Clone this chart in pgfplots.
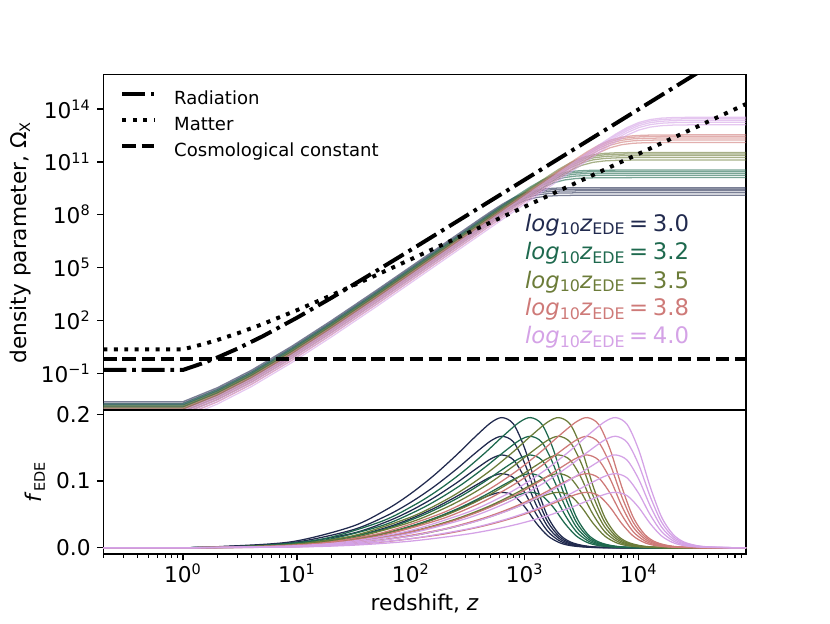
\documentclass[border=0pt]{standalone}
\usepackage{fontspec}
\setmainfont{DejaVu Sans}
\usepackage{pgfplots}
\usepackage{pgfplotstable}
\pgfplotsset{compat=1.18}
\definecolor{c1}{RGB}{33,42,78}
\definecolor{c2}{RGB}{30,105,78}
\definecolor{c3}{RGB}{108,124,57}
\definecolor{c4}{RGB}{206,122,120}
\definecolor{c5}{RGB}{212,162,230}

% top panel: log10 of density parameter of EDE, one table per z_EDE, columns = 5 amplitudes
\pgfplotstableread{
z a b c d e
0.2 -3.040 -2.900 -2.789 -2.694 -2.612
1 -3.040 -2.900 -2.789 -2.694 -2.612
2 -2.248 -2.108 -1.997 -1.902 -1.820
4 -1.250 -1.110 -0.999 -0.904 -0.822
9 0.105 0.245 0.356 0.451 0.533
20 1.555 1.695 1.806 1.901 1.983
50 3.289 3.429 3.540 3.635 3.717
250.4 6.406 6.546 6.657 6.752 6.834
397.6 7.300 7.440 7.551 7.646 7.728
500.7 7.738 7.878 7.989 8.084 8.166
630.5 8.156 8.296 8.407 8.502 8.584
794 8.525 8.665 8.776 8.871 8.953
1000 8.806 8.946 9.057 9.152 9.234
1259 8.975 9.115 9.226 9.321 9.403
1585 9.056 9.196 9.307 9.402 9.484
1996 9.088 9.228 9.339 9.434 9.516
2819 9.103 9.243 9.354 9.449 9.531
5012 9.107 9.247 9.358 9.453 9.535
87500 9.107 9.247 9.358 9.453 9.535
}\TA
\pgfplotstableread{
z a b c d e
0.2 -3.165 -3.025 -2.914 -2.819 -2.737
1 -3.165 -3.025 -2.914 -2.819 -2.737
2 -2.373 -2.233 -2.122 -2.027 -1.945
4 -1.375 -1.235 -1.124 -1.029 -0.947
9 -0.020 0.120 0.231 0.326 0.408
20 1.430 1.570 1.681 1.776 1.858
50 3.164 3.304 3.415 3.510 3.592
447 7.405 7.545 7.656 7.751 7.833
707.3 8.299 8.439 8.550 8.645 8.727
890.8 8.737 8.877 8.988 9.083 9.165
1122 9.155 9.295 9.406 9.501 9.583
1412 9.524 9.664 9.775 9.870 9.952
1778 9.805 9.945 10.056 10.151 10.233
2239 9.974 10.114 10.225 10.320 10.402
2819 10.055 10.195 10.306 10.401 10.483
3549 10.087 10.227 10.338 10.433 10.515
5013 10.102 10.242 10.353 10.448 10.530
8914 10.106 10.246 10.357 10.452 10.534
87500 10.106 10.246 10.357 10.452 10.534
}\TB
\pgfplotstableread{
z a b c d e
0.2 -3.290 -3.150 -3.039 -2.944 -2.862
1 -3.290 -3.150 -3.039 -2.944 -2.862
2 -2.498 -2.358 -2.247 -2.152 -2.070
4 -1.500 -1.360 -1.249 -1.154 -1.072
9 -0.145 -0.005 0.106 0.201 0.283
20 1.305 1.445 1.556 1.651 1.733
50 3.039 3.179 3.290 3.385 3.467
793.6 8.404 8.544 8.655 8.750 8.832
1258 9.298 9.438 9.549 9.644 9.726
1584 9.736 9.876 9.987 10.082 10.164
1995 10.154 10.294 10.405 10.500 10.582
2512 10.523 10.663 10.774 10.869 10.951
3162 10.804 10.944 11.055 11.150 11.232
3981 10.973 11.113 11.224 11.319 11.401
5012 11.054 11.194 11.305 11.400 11.482
6310 11.086 11.226 11.337 11.432 11.514
8913 11.101 11.241 11.352 11.447 11.529
15850 11.105 11.245 11.356 11.451 11.533
87500 11.105 11.245 11.356 11.451 11.533
}\TC
\pgfplotstableread{
z a b c d e
0.2 -3.415 -3.275 -3.164 -3.069 -2.987
1 -3.415 -3.275 -3.164 -3.069 -2.987
2 -2.623 -2.483 -2.372 -2.277 -2.195
4 -1.625 -1.485 -1.374 -1.279 -1.197
9 -0.270 -0.130 -0.019 0.076 0.158
20 1.180 1.320 1.431 1.526 1.608
50 2.914 3.054 3.165 3.260 3.342
1411 9.404 9.544 9.655 9.750 9.832
2238 10.298 10.438 10.549 10.644 10.726
2818 10.736 10.876 10.987 11.082 11.164
3548 11.154 11.294 11.405 11.500 11.582
4467 11.523 11.663 11.774 11.869 11.951
5623 11.804 11.944 12.055 12.150 12.232
7079 11.973 12.113 12.224 12.319 12.401
8913 12.054 12.194 12.305 12.400 12.482
11220 12.086 12.226 12.337 12.432 12.514
15850 12.101 12.241 12.352 12.447 12.529
28190 12.105 12.245 12.356 12.451 12.533
87500 12.105 12.245 12.356 12.451 12.533
}\TD
\pgfplotstableread{
z a b c d e
0.2 -3.540 -3.400 -3.289 -3.194 -3.112
1 -3.540 -3.400 -3.289 -3.194 -3.112
2 -2.748 -2.608 -2.497 -2.402 -2.320
4 -1.750 -1.610 -1.499 -1.404 -1.322
9 -0.395 -0.255 -0.144 -0.049 0.033
20 1.055 1.195 1.306 1.401 1.483
50 2.789 2.929 3.040 3.135 3.217
2511 10.404 10.544 10.655 10.750 10.832
3980 11.298 11.438 11.549 11.644 11.726
5011 11.736 11.876 11.987 12.082 12.164
6309 12.154 12.294 12.405 12.500 12.582
7942 12.523 12.663 12.774 12.869 12.951
10000 12.804 12.944 13.055 13.150 13.232
12590 12.973 13.113 13.224 13.319 13.401
15850 13.054 13.194 13.305 13.400 13.482
19950 13.086 13.226 13.337 13.432 13.514
28180 13.101 13.241 13.352 13.447 13.529
50120 13.105 13.245 13.356 13.451 13.533
87500 13.105 13.245 13.356 13.451 13.533
}\TE
% radiation, matter, cosmological constant (log10)
\pgfplotstableread{
z r
0.2 -0.810
1 -0.810
1.5 -0.422
2 -0.106
3 0.394
5 1.099
10 2.151
20 3.275
50 4.816
100 6.003
1000 9.988
10000 13.986
100000 17.986
}\Trad
\pgfplotstableread{
z m
0.2 0.360
1 0.360
1.5 0.651
2 0.888
3 1.263
5 1.791
10 2.581
20 3.424
50 4.580
100 5.470
1000 8.458
10000 11.457
87500 14.283
}\Tmat
\pgfplotstableread{
z l
0.2 -0.200
87500 -0.200
}\Tlam

% bottom panel: f_EDE
\pgfplotstableread{
z a b c d e
0.2 0 0 0 0 0
1 0 0 0 0 0
2.165 0.00069 0.00094 0.00122 0.00152 0.00183
9.01 0.00339 0.00467 0.00603 0.00747 0.00901
30.65 0.01221 0.01676 0.02156 0.02664 0.03202
62.15 0.02248 0.03074 0.03939 0.04846 0.05797
99.1 0.03175 0.04326 0.05525 0.0677 0.08068
157.6 0.04312 0.05851 0.07439 0.09075 0.10763
250.4 0.05673 0.07659 0.09686 0.11752 0.13863
354.2 0.06818 0.09166 0.11544 0.13945 0.16375
500.7 0.07914 0.10596 0.1329 0.1599 0.187
630.5 0.08301 0.11098 0.13899 0.16699 0.19501
794 0.07851 0.10513 0.1319 0.15872 0.18566
1000 0.06123 0.08252 0.1042 0.12621 0.14861
1259 0.03714 0.0505 0.06435 0.07869 0.09356
1585 0.01823 0.02496 0.03204 0.03948 0.04733
1996 0.00792 0.01091 0.01406 0.01739 0.02096
2513 0.00327 0.00451 0.00581 0.0072 0.00869
3550 0.00084 0.00116 0.00149 0.00185 0.00224
6313 0.00008 0.00011 0.00015 0.00019 0.00023
87500 0 0 0 0 0
}\FA
\pgfplotstableread{
z a b c d e
0.2 0 0 0 0 0
1 0 0 0 0 0
4.63 0.00117 0.00162 0.00209 0.00259 0.00313
16.8 0.00493 0.00678 0.00875 0.01085 0.01308
55.3 0.01513 0.02074 0.02666 0.0329 0.03948
111.3 0.02553 0.03487 0.04462 0.05482 0.06551
176.9 0.03449 0.04694 0.05987 0.07329 0.08725
281 0.04531 0.06142 0.078 0.09508 0.11267
446 0.0582 0.07853 0.09924 0.12036 0.14189
630.3 0.06912 0.09287 0.1169 0.14118 0.16574
890.8 0.07951 0.10643 0.13345 0.16055 0.18774
1121.7 0.08301 0.11098 0.13897 0.16698 0.19501
1412 0.07824 0.10476 0.13142 0.15819 0.18507
1778 0.06083 0.082 0.10353 0.12543 0.14772
2240 0.0368 0.05004 0.06377 0.07799 0.09274
2820 0.01802 0.02468 0.03168 0.03905 0.04681
3550 0.00782 0.01076 0.01386 0.01716 0.02065
4469 0.00323 0.00445 0.00573 0.00711 0.00858
6313 0.00083 0.00114 0.00148 0.00183 0.00222
11225 0.00008 0.00011 0.00015 0.00018 0.00022
87500 0 0 0 0 0
}\FB
\pgfplotstableread{
z a b c d e
0.2 0 0 0 0 0
1 0 0 0 0 0
2.163 0.00037 0.00051 0.00067 0.00083 0.001
9.0 0.00185 0.00255 0.0033 0.00409 0.00494
30.63 0.00669 0.00921 0.01187 0.0147 0.01771
99.0 0.01756 0.02406 0.0309 0.03809 0.04566
198.6 0.02771 0.03782 0.04836 0.05937 0.07085
315.3 0.03629 0.04938 0.06293 0.07699 0.09154
500.3 0.04665 0.06324 0.08027 0.09779 0.11579
793.6 0.05909 0.07972 0.10072 0.12211 0.14386
1121.4 0.06965 0.0936 0.11778 0.14223 0.16689
1584.4 0.07971 0.10673 0.1338 0.16097 0.18816
1994.9 0.08301 0.111 0.13899 0.16702 0.19499
2511.7 0.07806 0.10458 0.13119 0.15793 0.18471
3162.3 0.06059 0.0817 0.10316 0.12501 0.14719
3981 0.0366 0.04978 0.06344 0.07761 0.09227
5012 0.0179 0.02452 0.03148 0.0388 0.0465
6310 0.00778 0.01072 0.01382 0.01709 0.0206
7945 0.0032 0.00442 0.00571 0.00707 0.00853
11223 0.00082 0.00113 0.00146 0.00181 0.00219
19958 0.00008 0.00011 0.00015 0.00018 0.00022
87500 0 0 0 0 0
}\FC
\pgfplotstableread{
z a b c d e
0.2 0 0 0 0 0
1 0 0 0 0 0
4.624 0.00065 0.00089 0.00115 0.00143 0.00173
16.79 0.00273 0.00376 0.00486 0.00602 0.00727
55.24 0.00842 0.01157 0.01491 0.01845 0.0222
176.86 0.01935 0.0265 0.03399 0.04186 0.05014
353.9 0.02913 0.03975 0.05079 0.06231 0.07433
561.4 0.03742 0.0509 0.06482 0.07925 0.09421
890.4 0.04748 0.06434 0.08162 0.0994 0.11768
1411.8 0.05962 0.08043 0.10156 0.1231 0.14502
1994.6 0.06998 0.09403 0.11829 0.1428 0.16758
2817.9 0.07984 0.1069 0.13397 0.16115 0.18841
3547.8 0.08302 0.11103 0.13899 0.16699 0.19499
4466.6 0.07798 0.10448 0.13103 0.15772 0.18452
5623.4 0.06047 0.08155 0.10294 0.12473 0.14691
7080 0.03649 0.04965 0.06325 0.07736 0.092
8914 0.01785 0.02443 0.03136 0.03866 0.04634
11222 0.00775 0.01067 0.01376 0.01699 0.02047
14128 0.00319 0.00439 0.00566 0.00702 0.00847
19956 0.00081 0.00112 0.00145 0.0018 0.00218
35487 0.00008 0.00011 0.00014 0.00018 0.00022
87500 0 0 0 0 0
}\FD
\pgfplotstableread{
z a b c d e
0.2 0 0 0 0 0
1 0 0 0 0 0
9.0 0.00103 0.00142 0.00184 0.00228 0.00275
30.63 0.00374 0.00515 0.00664 0.00824 0.00994
99.0 0.00986 0.01354 0.01744 0.02157 0.02595
315.3 0.02053 0.0281 0.03604 0.04437 0.05312
630.0 0.03 0.04092 0.05228 0.06412 0.07646
999.1 0.03808 0.05178 0.06596 0.08062 0.09581
1584.1 0.04795 0.06496 0.08243 0.10036 0.11879
2511.1 0.05992 0.08081 0.10207 0.1237 0.14572
3547.5 0.07014 0.09425 0.11859 0.14316 0.16799
5011.4 0.07989 0.10696 0.1341 0.1613 0.18857
6309.2 0.083 0.111 0.139 0.167 0.19502
7943 0.07791 0.10438 0.13096 0.15764 0.18443
10000 0.06038 0.08142 0.10282 0.12459 0.14675
12590 0.03642 0.04956 0.06316 0.07725 0.09187
15850 0.01779 0.02436 0.03128 0.03857 0.04624
19954 0.00772 0.01063 0.01369 0.01694 0.0204
25121 0.00317 0.00437 0.00564 0.007 0.00844
35485 0.00081 0.00112 0.00145 0.0018 0.00217
63102 0.00008 0.00011 0.00014 0.00018 0.00022
87500 0 0 0 0 0
}\FE

\newcommand{\five}[3]{%
  \addplot[#3,#2,forget plot] table[x=z,y=a]{#1};
  \addplot[#3,#2,forget plot] table[x=z,y=b]{#1};
  \addplot[#3,#2,forget plot] table[x=z,y=c]{#1};
  \addplot[#3,#2,forget plot] table[x=z,y=d]{#1};
  \addplot[#3,#2,forget plot] table[x=z,y=e]{#1};
}
\newcommand{\sub}[1]{\raisebox{-1.9pt}{\fontsize{8.8pt}{8.8pt}\selectfont #1}}
\newcommand{\zlab}[1]{\textit{log}\sub{10}\textit{z}\sub{EDE}\hspace{0.2em}=\hspace{0.2em}#1}
\newcommand{\lbf}{\fontsize{12pt}{14pt}\selectfont}

\pgfplotsset{
  every axis/.append style={
    scale only axis, width=355.93pt,
    xmode=log, xmin=0.2, xmax=87500,
    tick align=outside, tick pos=left,
    major tick length=3.5pt, minor tick length=2pt,
    every tick/.style={black, line width=0.8pt},
    every minor tick/.style={black, line width=0.6pt},
    axis line style={line width=0.8pt},
    tick label style={font=\lbf},
  },
  topline/.style={line width=0.7pt, opacity=0.6},
  botline/.style={line width=0.7pt, smooth},
}

\begin{document}
\begin{tikzpicture}
\useasboundingbox (0,0) rectangle (459.65pt,345.02pt);
\begin{axis}[
  at={(57.21pt,117.96pt)}, anchor=south west, height=185.69pt,
  ymin=-3.083, ymax=15.947,
  xmajorticks=false, xminorticks=false,
  ytick={-1,2,5,8,11,14},
  yticklabels={10\textsuperscript{−1},10\textsuperscript{2},10\textsuperscript{5},10\textsuperscript{8},10\textsuperscript{11},10\textsuperscript{14}},
  ylabel={density parameter, Ω\textsubscript{X}},
  every axis y label/.style={at={(axis description cs:-0.1281,0.5)}, rotate=90, anchor=center, font=\lbf},
  legend image code/.code={\draw[#1] (0pt,3.4pt) -- (17.6pt,3.4pt);},
  legend cell align=left,
  legend style={draw=none, fill=none, at={(0.026,0.9517)}, anchor=north west,
    inner sep=0pt, row sep=4.7pt, column sep=10pt,
    font=\fontsize{10pt}{12pt}\selectfont,
    nodes={inner sep=0pt, text height=7.4pt, text depth=2.4pt}},
]
\five{\TA}{c1}{topline}
\five{\TB}{c2}{topline}
\five{\TC}{c3}{topline}
\five{\TD}{c4}{topline}
\five{\TE}{c5}{topline}
\addplot[black, line width=2.2pt, dash pattern=on 12.8pt off 3.2pt on 2pt off 3.2pt] table[x=z,y=r]{\Trad};
\addlegendentry{Radiation}
\addplot[black, line width=2.2pt, dash pattern=on 2.2pt off 3.6pt] table[x=z,y=m]{\Tmat};
\addlegendentry{Matter}
\addplot[black, line width=2.2pt, dash pattern=on 7.4pt off 3.2pt] table[x=z,y=l]{\Tlam};
\addlegendentry{Cosmological constant}
\node[anchor=base west, inner sep=0pt, text=c1, font=\fontsize{12.6pt}{15pt}\selectfont] at (axis cs:1000,7.05) {\zlab{3.0}};
\node[anchor=base west, inner sep=0pt, text=c2, font=\fontsize{12.6pt}{15pt}\selectfont] at (axis cs:1000,5.45) {\zlab{3.2}};
\node[anchor=base west, inner sep=0pt, text=c3, font=\fontsize{12.6pt}{15pt}\selectfont] at (axis cs:1000,3.84) {\zlab{3.5}};
\node[anchor=base west, inner sep=0pt, text=c4, font=\fontsize{12.6pt}{15pt}\selectfont] at (axis cs:1000,2.27) {\zlab{3.8}};
\node[anchor=base west, inner sep=0pt, text=c5, font=\fontsize{12.6pt}{15pt}\selectfont] at (axis cs:1000,0.68) {\zlab{4.0}};
\end{axis}
\begin{axis}[
  at={(57.21pt,38.21pt)}, anchor=south west, height=79.75pt,
  ymin=-0.0094, ymax=0.2064,
  xtick={1,10,100,1000,10000},
  xticklabels={10\textsuperscript{0},10\textsuperscript{1},10\textsuperscript{2},10\textsuperscript{3},10\textsuperscript{4}},
  xticklabel style={yshift=1.5pt},
  minor xtick={0.2,0.3,0.4,0.5,0.6,0.7,0.8,0.9,2,3,4,5,6,7,8,9,20,30,40,50,60,70,80,90,200,300,400,500,600,700,800,900,2000,3000,4000,5000,6000,7000,8000,9000,20000,30000,40000,50000,60000,70000,80000},
  ytick={0,0.1,0.2}, yticklabels={0.0,0.1,0.2},
  xlabel={redshift, \textit{z}},
  every axis x label/.style={at={(axis description cs:0.5,-0.389)}, anchor=base, font=\lbf},
  ylabel={\textit{f}\textsubscript{EDE}},
  every axis y label/.style={at={(axis description cs:-0.1063,0.5)}, rotate=90, anchor=center, font=\lbf},
]
\five{\FA}{c1}{botline}
\five{\FB}{c2}{botline}
\five{\FC}{c3}{botline}
\five{\FD}{c4}{botline}
\five{\FE}{c5}{botline}
\end{axis}
\end{tikzpicture}
\end{document}
